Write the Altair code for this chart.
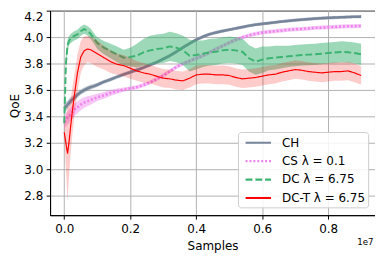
import altair as alt
import pandas as pd

# x positions in millions of samples
x_m = [0, 0.05, 0.1, 0.15, 0.2, 0.25, 0.3, 0.4, 0.5, 0.6, 0.7, 0.8, 0.9, 1.0,
       1.2, 1.4, 1.6, 1.8, 2.0, 2.2, 2.4, 2.6, 2.8, 3.0, 3.2, 3.4, 3.6, 3.8,
       4.0, 4.2, 4.4, 4.6, 4.8, 5.0, 5.2, 5.4, 5.6, 5.8, 6.0, 6.2, 6.4, 6.6,
       6.8, 7.0, 7.2, 7.4, 7.6, 7.8, 8.0, 8.2, 8.4, 8.6, 8.8, 9.0]

ch = [3.46, 3.475, 3.49, 3.505, 3.52, 3.53, 3.54, 3.565, 3.585, 3.60, 3.612, 3.622, 3.63, 3.64,
      3.662, 3.68, 3.70, 3.718, 3.735, 3.752, 3.77, 3.79, 3.81, 3.835, 3.86, 3.89, 3.922, 3.952,
      3.98, 4.003, 4.022, 4.035, 4.046, 4.056, 4.066, 4.076, 4.086, 4.094, 4.10, 4.106, 4.112, 4.118,
      4.123, 4.128, 4.132, 4.136, 4.14, 4.143, 4.146, 4.148, 4.15, 4.152, 4.154, 4.155]
ch_err = [0.035, 0.035, 0.03, 0.03, 0.028, 0.026, 0.025, 0.022, 0.02, 0.02, 0.018, 0.018, 0.016, 0.016,
          0.015, 0.015, 0.014, 0.014, 0.014, 0.014, 0.014, 0.013, 0.013, 0.014, 0.014, 0.014, 0.014, 0.013,
          0.013, 0.013, 0.013, 0.013, 0.013, 0.012, 0.012, 0.012, 0.012, 0.012, 0.012, 0.012, 0.012, 0.012,
          0.012, 0.012, 0.012, 0.012, 0.012, 0.012, 0.012, 0.012, 0.012, 0.012, 0.012, 0.012]

cs = [3.36, 3.375, 3.39, 3.405, 3.42, 3.435, 3.45, 3.47, 3.49, 3.505, 3.515, 3.525, 3.535, 3.545,
      3.56, 3.578, 3.592, 3.603, 3.613, 3.622, 3.638, 3.658, 3.683, 3.71, 3.742, 3.775, 3.80, 3.82,
      3.84, 3.86, 3.884, 3.91, 3.934, 3.958, 3.98, 3.998, 4.013, 4.025, 4.034, 4.04, 4.045, 4.05,
      4.055, 4.059, 4.062, 4.066, 4.07, 4.072, 4.075, 4.077, 4.08, 4.082, 4.083, 4.084]
cs_err = [0.05, 0.05, 0.05, 0.05, 0.05, 0.05, 0.048, 0.045, 0.042, 0.04, 0.038, 0.035, 0.03, 0.028,
          0.025, 0.022, 0.02, 0.016, 0.015, 0.015, 0.015, 0.015, 0.015, 0.015, 0.015, 0.015, 0.015, 0.015,
          0.015, 0.015, 0.015, 0.015, 0.015, 0.015, 0.015, 0.015, 0.015, 0.015, 0.015, 0.015, 0.015, 0.015,
          0.015, 0.015, 0.015, 0.015, 0.015, 0.015, 0.015, 0.015, 0.015, 0.015, 0.015, 0.015]

dc = [3.35, 3.80, 3.94, 3.975, 3.99, 4.0, 4.01, 4.02, 4.045, 4.06, 4.05, 4.025, 3.99, 3.955,
      3.92, 3.895, 3.87, 3.845, 3.85, 3.86, 3.885, 3.90, 3.91, 3.915, 3.93, 3.92, 3.90, 3.86,
      3.865, 3.875, 3.885, 3.89, 3.90, 3.905, 3.90, 3.89, 3.84, 3.815, 3.83, 3.84, 3.845, 3.85,
      3.855, 3.86, 3.865, 3.868, 3.87, 3.875, 3.88, 3.884, 3.888, 3.886, 3.88, 3.87]
dc_err = [0.03, 0.06, 0.04, 0.035, 0.035, 0.035, 0.035, 0.035, 0.035, 0.035, 0.035, 0.04, 0.04, 0.045,
          0.05, 0.055, 0.06, 0.06, 0.07, 0.09, 0.1, 0.11, 0.11, 0.11, 0.11, 0.11, 0.11, 0.12,
          0.11, 0.1, 0.1, 0.1, 0.1, 0.1, 0.1, 0.1, 0.1, 0.1, 0.1, 0.09, 0.09, 0.085,
          0.08, 0.08, 0.08, 0.08, 0.08, 0.08, 0.08, 0.08, 0.08, 0.08, 0.08, 0.08]

dct = [3.28, 3.20, 3.12, 3.22, 3.34, 3.45, 3.55, 3.73, 3.85, 3.895, 3.91, 3.905, 3.89, 3.875,
       3.845, 3.815, 3.795, 3.785, 3.765, 3.745, 3.73, 3.72, 3.705, 3.69, 3.685, 3.675, 3.67, 3.69,
       3.715, 3.72, 3.72, 3.715, 3.715, 3.71, 3.695, 3.685, 3.69, 3.695, 3.705, 3.715, 3.72, 3.735,
       3.745, 3.755, 3.75, 3.74, 3.735, 3.73, 3.735, 3.74, 3.74, 3.745, 3.73, 3.71]
dct_err = [0.05, 0.2, 0.36, 0.25, 0.2, 0.18, 0.16, 0.14, 0.12, 0.11, 0.1, 0.1, 0.1, 0.1,
           0.09, 0.085, 0.08, 0.08, 0.08, 0.075, 0.075, 0.07, 0.07, 0.07, 0.07, 0.07, 0.07, 0.07,
           0.07, 0.07, 0.07, 0.07, 0.07, 0.07, 0.07, 0.07, 0.07, 0.07, 0.07, 0.07, 0.07, 0.07,
           0.07, 0.07, 0.07, 0.07, 0.07, 0.07, 0.07, 0.07, 0.07, 0.07, 0.07, 0.07]

names = ["CH", "CS λ = 0.1", "DC λ = 6.75", "DC-T λ = 6.75"]
colors = ["#76859a", "#ee82ee", "#3cb371", "#ff0000"]
band_opacity = [0.45, 0.45, 0.5, 0.2]
dashes = [[1, 0], [2, 2], [7, 3], [1, 0]]
widths = [2.6, 2.6, 2.0, 1.2]

rows = []
for name, ys, es in zip(names, [ch, cs, dc, dct], [ch_err, cs_err, dc_err, dct_err]):
    for xv, yv, ev in zip(x_m, ys, es):
        rows.append({"series": name, "x": xv * 1e6, "y": yv, "lo": yv - ev, "hi": yv + ev})
df = pd.DataFrame(rows)

FS = 12.2
xscale = alt.Scale(domain=[-0.43e6, 9.42e6], nice=False, zero=False)
yscale = alt.Scale(domain=[2.655, 4.2], nice=False, zero=False)

xaxis = alt.Axis(values=[0, 2e6, 4e6, 6e6, 8e6], labelExpr="format(datum.value/1e7, '.1f')",
                 title="Samples", titleX=166, titleY=35.5, titleBaseline="alphabetic",
                 titleFontWeight="normal")
yaxis = alt.Axis(values=[2.8, 3.0, 3.2, 3.4, 3.6, 3.8, 4.0, 4.2], format=".1f",
                 labelFlush=True, labelFlushOffset=0,
                 title="QoE", titleX=-29.5, titleY=97, titleAngle=270, titleBaseline="bottom",
                 titleFontWeight="normal")

base = alt.Chart(df)
layers = []
for i, name in enumerate(names):
    band = base.transform_filter(alt.datum.series == name).mark_area(
        color=colors[i], opacity=band_opacity[i], clip=True
    ).encode(
        x=alt.X("x:Q", scale=xscale, axis=xaxis),
        y=alt.Y("lo:Q", scale=yscale, axis=yaxis),
        y2="hi:Q",
    )
    line = base.transform_filter(alt.datum.series == name).mark_line(
        clip=True, strokeWidth=widths[i]
    ).encode(
        x=alt.X("x:Q", scale=xscale, axis=xaxis),
        y=alt.Y("y:Q", scale=yscale, axis=yaxis),
        color=alt.Color("series:N", scale=alt.Scale(domain=names, range=colors), title=None),
        strokeDash=alt.StrokeDash("series:N", scale=alt.Scale(domain=names, range=dashes), title=None),
    )
    layers += [band, line]

offset_text = alt.Chart(pd.DataFrame({"t": ["1e7"]})).mark_text(
    align="right", baseline="alphabetic", fontSize=8.8, font="DejaVu Sans", color="black"
).encode(text="t:N", x=alt.value(330.5), y=alt.value(239))

chart = alt.layer(*layers, offset_text).properties(
    width=332, height=209,
    autosize=alt.AutoSizeParams(type="none"),
    padding={"left": 43, "top": 0, "right": 0, "bottom": 40},
).configure_view(
    stroke="black", strokeWidth=1
).configure_axis(
    labelFont="DejaVu Sans", titleFont="DejaVu Sans", labelFontSize=FS, titleFontSize=FS,
    labelColor="black", titleColor="black", domainColor="black", tickColor="black",
    tickSize=4, labelPadding=3.5, gridColor="#b0b0b0", gridWidth=1, domainWidth=1,
).configure_legend(
    orient="none", legendX=192, legendY=124, labelFont="DejaVu Sans", labelFontSize=FS,
    labelColor="black", symbolType="M-0.5,0L3.5,0", symbolSize=169, symbolStrokeWidth=2.2,
    padding=3, fillColor="rgba(255,255,255,0.85)", strokeColor="#cccccc", cornerRadius=3,
    rowPadding=3.8, labelOffset=26,
)

chart.save("out.html", embed_options={"renderer": "svg", "actions": False})
